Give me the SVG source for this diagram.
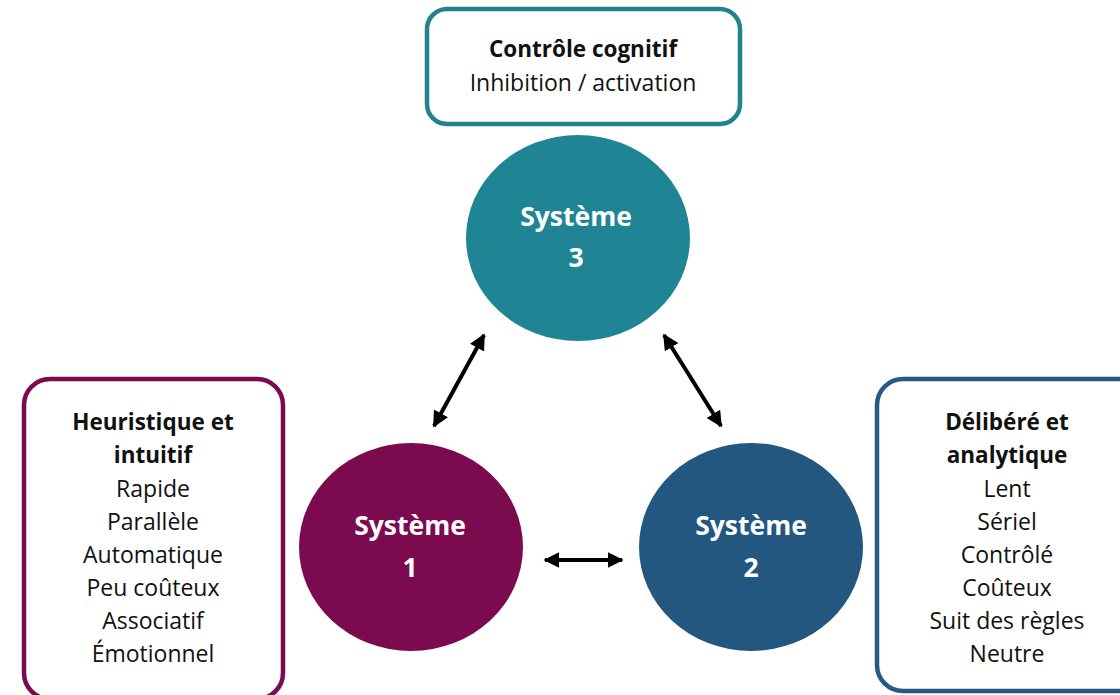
<svg xmlns="http://www.w3.org/2000/svg" width="1120" height="695" viewBox="0 0 1120 695">
<style>
.t{font-family:"Open Sans","Liberation Sans",sans-serif;font-size:23px;fill:#111;text-anchor:middle}
.b{font-weight:bold;font-size:22.5px}
.c{font-family:"Open Sans","Liberation Sans",sans-serif;font-size:26.5px;font-weight:bold;fill:#fff;text-anchor:middle}
.box{fill:#fff;stroke-width:4.5}
.ar{stroke:#000;stroke-width:4;fill:none;marker-start:url(#h);marker-end:url(#h)}
</style>
<defs>
<marker id="h" viewBox="0 0 10 10" refX="9" refY="5" markerWidth="4" markerHeight="4" orient="auto-start-reverse" markerUnits="strokeWidth">
<path d="M0,0 L10,5 L0,10 z" fill="#000"/>
</marker>
</defs>
<rect width="1120" height="695" fill="#fff"/>
<g id="controle">
<rect class="box" x="427" y="9" width="313" height="115" rx="20" stroke="#21838f"/>
<text class="t b" x="583" y="57">Contrôle cognitif</text>
<text class="t" x="583" y="91">Inhibition / activation</text>
</g>
<g id="heuristique">
<rect class="box" x="24" y="379" width="259" height="320" rx="26" stroke="#7a0b4e"/>
<text class="t b" x="153" y="430">Heuristique et</text>
<text class="t b" x="153" y="463">intuitif</text>
<text class="t" x="153" y="497">Rapide</text>
<text class="t" x="153" y="530">Parallèle</text>
<text class="t" x="153" y="563">Automatique</text>
<text class="t" x="153" y="596">Peu coûteux</text>
<text class="t" x="153" y="629">Associatif</text>
<text class="t" x="153" y="662">Émotionnel</text>
</g>
<g id="delibere">
<rect class="box" x="877" y="379" width="270" height="312" rx="26" stroke="#245a85"/>
<text class="t b" x="1007" y="430">Délibéré et</text>
<text class="t b" x="1007" y="463">analytique</text>
<text class="t" x="1007" y="497">Lent</text>
<text class="t" x="1007" y="530">Sériel</text>
<text class="t" x="1007" y="563">Contrôlé</text>
<text class="t" x="1007" y="596">Coûteux</text>
<text class="t" x="1007" y="629">Suit des règles</text>
<text class="t" x="1007" y="662">Neutre</text>
</g>
<g id="systeme3">
<ellipse cx="578" cy="238" rx="112" ry="103" fill="#1f8595"/>
<text class="c" x="576" y="226">Système</text>
<text class="c" x="576" y="267">3</text>
</g>
<g id="systeme1">
<ellipse cx="411" cy="547" rx="112" ry="104" fill="#7b0a4f"/>
<text class="c" x="410" y="535">Système</text>
<text class="c" x="410" y="577">1</text>
</g>
<g id="systeme2">
<ellipse cx="751" cy="547" rx="112" ry="104" fill="#23577f"/>
<text class="c" x="751" y="535">Système</text>
<text class="c" x="751" y="577">2</text>
</g>
<g id="connectors">
<line class="ar" x1="434" y1="426" x2="484" y2="335"/>
<line class="ar" x1="664" y1="335" x2="721" y2="426"/>
<line class="ar" x1="545" y1="560" x2="622" y2="560"/>
</g>
</svg>
